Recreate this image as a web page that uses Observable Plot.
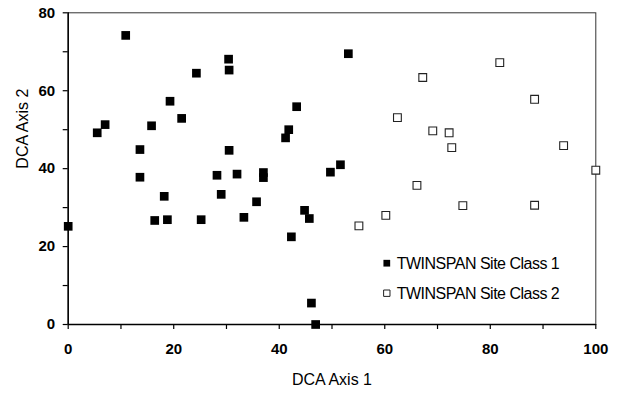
<!DOCTYPE html>
<html>
<head>
<meta charset="utf-8">
<script src="https://cdn.jsdelivr.net/npm/d3@7"></script>
<script src="https://cdn.jsdelivr.net/npm/@observablehq/plot@0.6"></script>
<style>
  html, body { margin: 0; padding: 0; background: #fff; }
  #chart svg { display: block; }
</style>
</head>
<body>
<div id="chart"></div>
<script>
// Data
const class1X = [0, 5.5, 7.0, 10.9, 13.6, 13.6, 15.8, 19.3, 21.5, 24.3, 30.4, 30.5, 30.5, 28.2, 32.0, 37.0, 37.0, 41.2, 41.8, 43.3, 18.2, 29.0, 35.7, 16.4, 18.8, 25.2, 33.3, 42.3, 44.8, 45.7, 46.1, 46.9, 53.1, 51.6, 49.7];
const class1Y = [25.2, 49.2, 51.3, 74.2, 44.9, 37.8, 51.0, 57.3, 52.9, 64.5, 68.1, 65.3, 44.7, 38.3, 38.6, 39.0, 37.7, 47.9, 50.0, 55.9, 32.9, 33.4, 31.5, 26.7, 26.9, 26.9, 27.5, 22.5, 29.3, 27.2, 5.5, 0, 69.5, 41.0, 39.1];
const class2X = [81.8, 67.2, 88.4, 62.4, 69.1, 72.2, 72.7, 93.9, 100, 66.1, 74.8, 88.4, 55.1, 60.2];
const class2Y = [67.2, 63.4, 57.8, 53.1, 49.7, 49.2, 45.4, 45.9, 39.6, 35.7, 30.5, 30.6, 25.3, 28.0];
const seriesNames = ["TWINSPAN Site Class 1", "TWINSPAN Site Class 2"];
const xTicks = [0, 10, 20, 30, 40, 50, 60, 70, 80, 90, 100];
const yTicks = [0, 10, 20, 30, 40, 50, 60, 70, 80];
const xTitle = "DCA Axis 1";
const yTitle = "DCA Axis 2";

const class1 = class1X.map((x, i) => ({x, y: class1Y[i]}));
const class2 = class2X.map((x, i) => ({x, y: class2Y[i]}));

const font = "Liberation Sans, Arial, Helvetica, sans-serif";

const chart = Plot.plot({
  width: 618,
  height: 393,
  marginLeft: 67.7,
  marginRight: 22.7,
  marginTop: 12.3,
  marginBottom: 69,
  style: {fontFamily: font, background: "#fff", color: "#000"},
  x: {domain: [0, 100], label: null},
  y: {domain: [0, 80], label: null},
  marks: [
    Plot.frame({stroke: "#333", strokeWidth: 1}),
    Plot.axisX({ticks: xTicks, tickSize: 5, tickPadding: 14, tickFormat: d => d % 20 === 0 ? d : "", fontSize: 15, fontWeight: "bold", strokeWidth: 1.2, label: null}),
    Plot.axisY({ticks: yTicks, tickSize: 5, tickPadding: 8, tickFormat: d => d % 20 === 0 ? d : "", fontSize: 15, fontWeight: "bold", strokeWidth: 1.2, label: null}),
    Plot.ruleX([0], {stroke: "#000", strokeWidth: 1.5}),
    Plot.ruleY([0], {stroke: "#000", strokeWidth: 1.5}),
    Plot.dot(class1, {x: "x", y: "y", symbol: "square", r: 4.9, fill: "#000", stroke: "none", clip: false}),
    Plot.dot(class2, {x: "x", y: "y", symbol: "square", r: 4.4, fill: "#fff", stroke: "#222", strokeWidth: 1.1, clip: false}),
    // legend
    Plot.dot([seriesNames[0]], {frameAnchor: "top-left", dx: 318.6, dy: 250.4, symbol: "square", r: 3.8, fill: "#000"}),
    Plot.dot([seriesNames[1]], {frameAnchor: "top-left", dx: 318.6, dy: 280.4, symbol: "square", r: 3.6, fill: "#fff", stroke: "#222", strokeWidth: 1}),
    Plot.text([seriesNames[0]], {text: d => d, frameAnchor: "top-left", dx: 328.5, dy: 251, textAnchor: "start", lineAnchor: "middle", fontSize: 16, fill: "#000"}),
    Plot.text([seriesNames[1]], {text: d => d, frameAnchor: "top-left", dx: 328.5, dy: 281, textAnchor: "start", lineAnchor: "middle", fontSize: 16, fill: "#000"}),
    // axis titles
    Plot.text([xTitle], {text: d => d, frameAnchor: "bottom", dy: 55, lineAnchor: "middle", fontSize: 16, fill: "#000"}),
    Plot.text([yTitle], {text: d => d, frameAnchor: "left", dx: -45.7, rotate: -90, lineAnchor: "middle", fontSize: 16, fill: "#000"})
  ]
});
chart.querySelectorAll("text").forEach(t => {
  if (t.textContent.startsWith("TWINSPAN")) t.setAttribute("letter-spacing", "-0.5");
});
document.getElementById("chart").appendChild(chart);
</script>
</body>
</html>
